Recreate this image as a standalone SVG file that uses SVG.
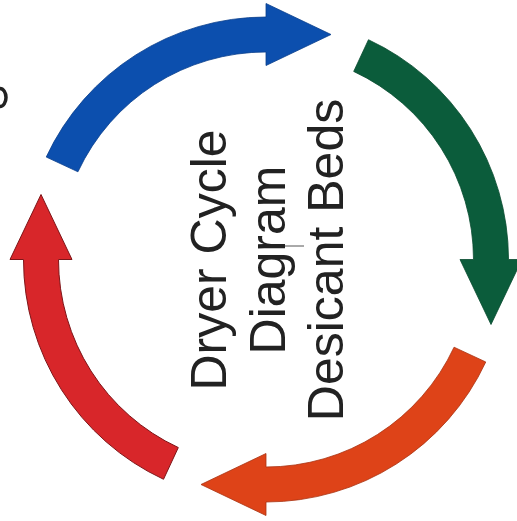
<svg xmlns="http://www.w3.org/2000/svg" xmlns:xlink="http://www.w3.org/1999/xlink" width="517" height="521" viewBox="0 0 517 521">
  <style>
    .blue { fill: #0c4fae; stroke: #0a3f8c; stroke-width: 0.8; }
    .green { fill: #0b5c3b; stroke: #084a2f; stroke-width: 0.8; }
    .orange { fill: #de4318; stroke: #a83212; stroke-width: 0.8; }
    .red { fill: #d8262a; stroke: #7e1518; stroke-width: 1; }
    .label { font-family: "Liberation Sans", Arial, sans-serif; font-size: 50px; fill: #222; text-anchor: middle; }
    .mark { fill: none; stroke: #222; stroke-width: 3.5; }
    .thin { stroke: #555; stroke-width: 1; }
  </style>
  <defs>
    <path id="arrowShape" d="M 46.22,157.02 A 242.5 242.5 0 0 1 266,17 L 266,3.5 L 331,34.5 L 266,65.5 L 266,52 A 207.5 207.5 0 0 0 77.94,171.81 Z"/>
  </defs>
  <g id="connectors">
    <g id="arrow-blue"><use xlink:href="#arrowShape" class="blue"/></g>
    <g id="arrow-green"><use xlink:href="#arrowShape" class="green" transform="rotate(90 266 259.5)"/></g>
    <g id="arrow-orange"><use xlink:href="#arrowShape" class="orange" transform="rotate(180 266 259.5)"/></g>
    <g id="arrow-red"><use xlink:href="#arrowShape" class="red" transform="rotate(270 266 259.5)"/></g>
  </g>
  <g id="title">
    <text class="label" transform="translate(226 260) rotate(-90)">Dryer Cycle</text>
    <text class="label" transform="translate(285 260) rotate(-90)">Diagram</text>
    <text class="label" transform="translate(343 260) rotate(-90)">Desicant Beds</text>
    <line class="thin" x1="285" y1="246" x2="304" y2="246"/>
  </g>
  <path class="mark" d="M 0,88.5 A 6 9 0 0 1 0,106.5"/>
</svg>
